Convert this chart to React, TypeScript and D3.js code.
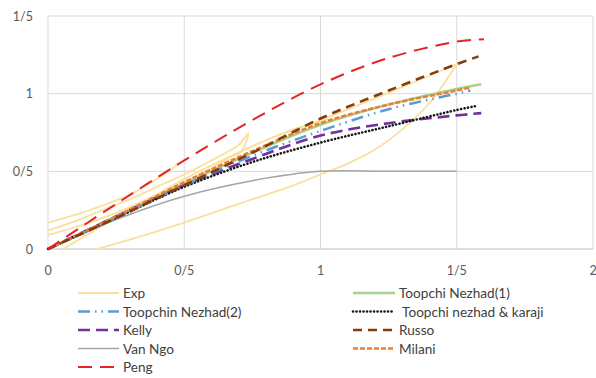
import React from 'react';
import * as d3 from 'd3';

// x (displacement) and y (load)
const xSteps = [0, 0.25, 0.5, 0.75, 1, 1.25, 1.5];

const pengX = [...xSteps, 1.6];
const pengY = [0, 0.29, 0.57, 0.83, 1.06, 1.23, 1.335, 1.35];
const russoX = [...xSteps, 1.58];
const russoY = [0, 0.2, 0.41, 0.62, 0.84, 1.02, 1.19, 1.24];
const toopchi1X = [...xSteps, 1.59];
const toopchi1Y = [0, 0.21, 0.42, 0.62, 0.8, 0.93, 1.03, 1.06];
const milaniX = [...xSteps, 1.55];
const milaniY = [0, 0.21, 0.43, 0.63, 0.81, 0.93, 1.02, 1.04];
const toopchi2X = [...xSteps, 1.55];
const toopchi2Y = [0, 0.2, 0.41, 0.6, 0.76, 0.9, 1.0, 1.02];
const kellyX = [...xSteps, 1.59];
const kellyY = [0, 0.21, 0.41, 0.58, 0.73, 0.81, 0.86, 0.875];
const karajiX = [...xSteps, 1.57];
const karajiY = [0, 0.2, 0.4, 0.56, 0.685, 0.79, 0.895, 0.92];
const vanNgoX = xSteps;
const vanNgoY = [0, 0.19, 0.34, 0.44, 0.5, 0.5, 0.5];

// experimental curves (several tests, one legend entry)
const expAX = [0, 0.1, 0.2, 0.3, 0.4, 0.48];
const expAY = [0.17, 0.22, 0.28, 0.35, 0.45, 0.55];
const expBX = [0, 0.1, 0.2, 0.3, 0.4, 0.5, 0.6, 0.7, 0.735, 0.72, 0.69];
const expBY = [0.12, 0.18, 0.25, 0.32, 0.4, 0.48, 0.57, 0.67, 0.745, 0.66, 0.59];
const expCX = [0, 0.1, 0.2, 0.3, 0.4, 0.5, 0.6, 0.7, 0.8, 0.9, 1.0, 1.03];
const expCY = [0.09, 0.14, 0.2, 0.27, 0.35, 0.43, 0.52, 0.62, 0.7, 0.77, 0.82, 0.84];
const expDX = [0.055, 0.2, 0.35, 0.5, 0.65, 0.8, 1.0, 1.2, 1.35, 1.5];
const expDY = [0, 0.15, 0.3, 0.45, 0.58, 0.7, 0.83, 0.97, 1.08, 1.19];
const expEX = [0.18, 0.3, 0.5, 0.7, 0.9, 1.0, 1.1, 1.2, 1.3, 1.4, 1.5];
const expEY = [0, 0.06, 0.17, 0.29, 0.41, 0.48, 0.55, 0.64, 0.77, 0.94, 1.19];

const xTicks = [0, 0.5, 1, 1.5, 2];
const xTickLabels = ['0', '0/5', '1', '1/5', '2'];
const yTicks = [0, 0.5, 1, 1.5];
const yTickLabels = ['0', '0/5', '1', '1/5'];

const zip = (xs: number[], ys: number[]) => xs.map((x, i) => [x, ys[i]] as [number, number]);

type Style = { color: string; width: number; dash?: string; cap?: string };

const styles: Record<string, Style> = {
  exp: { color: '#F9E09D', width: 1.8 },
  toopchi1: { color: '#A9D18E', width: 2.5 },
  toopchi2: { color: '#5B9BD5', width: 2.5, dash: '12,5,1.5,5,1.5,5' },
  karaji: { color: '#1a1a1a', width: 2.6, dash: '0.1,3.4', cap: 'round' },
  kelly: { color: '#7030A0', width: 2.6, dash: '12,6' },
  russo: { color: '#843C0C', width: 2.6, dash: '9,6' },
  vanNgo: { color: '#A5A5A5', width: 1.5 },
  milani: { color: '#ED7D31', width: 2.5, dash: '5,2' },
  peng: { color: '#E3242B', width: 2, dash: '14,8' },
};

const series: { key: string; pts: [number, number][] }[] = [
  { key: 'exp', pts: zip(expAX, expAY) },
  { key: 'exp', pts: zip(expBX, expBY) },
  { key: 'exp', pts: zip(expCX, expCY) },
  { key: 'exp', pts: zip(expDX, expDY) },
  { key: 'exp', pts: zip(expEX, expEY) },
  { key: 'vanNgo', pts: zip(vanNgoX, vanNgoY) },
  { key: 'toopchi1', pts: zip(toopchi1X, toopchi1Y) },
  { key: 'kelly', pts: zip(kellyX, kellyY) },
  { key: 'karaji', pts: zip(karajiX, karajiY) },
  { key: 'toopchi2', pts: zip(toopchi2X, toopchi2Y) },
  { key: 'milani', pts: zip(milaniX, milaniY) },
  { key: 'russo', pts: zip(russoX, russoY) },
  { key: 'peng', pts: zip(pengX, pengY) },
];

const legendLeft = [
  ['exp', 'Exp'],
  ['toopchi2', 'Toopchin Nezhad(2)'],
  ['kelly', 'Kelly'],
  ['vanNgo', 'Van Ngo'],
  ['peng', 'Peng'],
];
const legendRight = [
  ['toopchi1', 'Toopchi Nezhad(1)'],
  ['karaji', ' Toopchi nezhad & karaji'],
  ['russo', 'Russo'],
  ['milani', 'Milani'],
];

const W = 596;
const H = 378;
const font = 'Lato, "Open Sans", sans-serif';

const App = () => {
  const x = d3.scaleLinear().domain([0, 2]).range([48, 593]);
  const y = d3.scaleLinear().domain([0, 1.5]).range([249, 16]);
  const line = d3
    .line<[number, number]>()
    .x(d => x(d[0]))
    .y(d => y(d[1]))
    .curve(d3.curveCatmullRom.alpha(0.5));

  const legendItem = (key: string, label: string, lx: number, ly: number, len: number, i: number) => {
    const s = styles[key];
    return (
      <g key={label + i}>
        <line
          x1={lx}
          x2={lx + len}
          y1={ly}
          y2={ly}
          stroke={s.color}
          strokeWidth={s.width}
          strokeDasharray={s.dash}
          strokeLinecap={(s.cap as any) || 'butt'}
        />
        <text x={lx + len + 4} y={ly + 5} fontSize={13.6} fill="#404040" fontFamily={font} style={{ whiteSpace: 'pre' }}>
          {label}
        </text>
      </g>
    );
  };

  return (
    <svg width={W} height={H} style={{ position: 'fixed', left: 0, top: 0, background: '#fff' }}>
      <rect width={W} height={H} fill="#fff" />
      {xTicks.slice(1).map(t => (
        <line key={'gx' + t} x1={x(t)} x2={x(t)} y1={y(0)} y2={y(1.5)} stroke="#D9D9D9" strokeWidth={1} />
      ))}
      {yTicks.slice(1).map(t => (
        <line key={'gy' + t} x1={x(0)} x2={x(2)} y1={y(t)} y2={y(t)} stroke="#D9D9D9" strokeWidth={1} />
      ))}
      <line x1={x(0)} x2={x(0)} y1={y(0)} y2={y(1.5)} stroke="#D9D9D9" />
      <line x1={x(0)} x2={x(2)} y1={y(0)} y2={y(0)} stroke="#BFBFBF" />

      {series.map((s, i) => {
        const st = styles[s.key];
        return (
          <path
            key={i}
            d={line(s.pts) || ''}
            fill="none"
            stroke={st.color}
            strokeWidth={st.width}
            strokeDasharray={st.dash}
            strokeLinecap={(st.cap as any) || 'butt'}
          />
        );
      })}

      {xTicks.map((t, i) => (
        <text key={'xt' + t} x={x(t)} y={275} textAnchor="middle" fontSize={12.5} fill="#595959" fontFamily={font}>
          {xTickLabels[i]}
        </text>
      ))}
      {yTicks.map((t, i) => (
        <text key={'yt' + t} x={33} y={y(t) + 4.5} textAnchor="end" fontSize={12.5} fill="#595959" fontFamily={font}>
          {yTickLabels[i]}
        </text>
      ))}

      {legendLeft.map((d, i) => legendItem(d[0], d[1], 78, 293 + i * 18.5, 41, i))}
      {legendRight.map((d, i) => legendItem(d[0], d[1], 353, 293 + i * 18.5, 42, i))}
    </svg>
  );
};

export default App;
